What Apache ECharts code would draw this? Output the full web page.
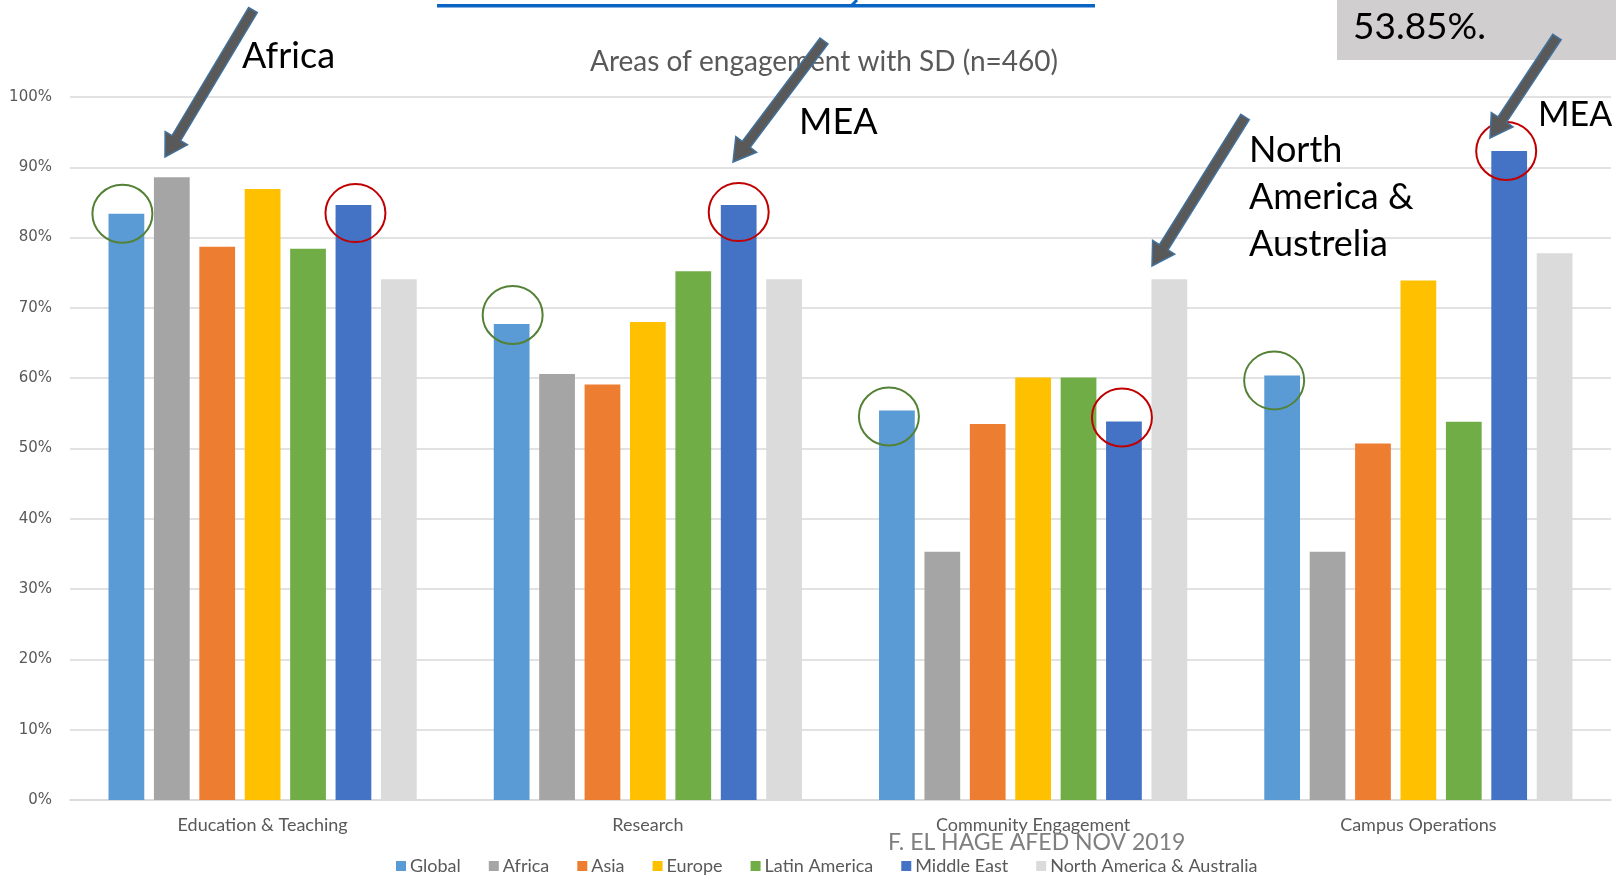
<!DOCTYPE html>
<html>
<head>
<meta charset="utf-8">
<script src="https://cdn.jsdelivr.net/npm/echarts@6/dist/echarts.min.js"></script>
<style>
  html, body { margin: 0; padding: 0; background: #fff; }
  #chart { width: 1616px; height: 882px; }
</style>
</head>
<body>
<div id="chart"></div>
<script>
// Share of respondents engaged in each SD area, by region (%)
const categories = ['Education & Teaching', 'Research', 'Community Engagement', 'Campus Operations'];
const regions = ['Global', 'Africa', 'Asia', 'Europe', 'Latin America', 'Middle East', 'North America & Australia'];
const globalVals       = [83.4, 67.7, 55.4, 60.4];
const africaVals       = [88.6, 60.6, 35.3, 35.3];
const asiaVals         = [78.7, 59.1, 53.5, 50.7];
const europeVals       = [86.9, 68.0, 60.1, 73.9];
const latinAmericaVals = [78.4, 75.2, 60.1, 53.8];
const middleEastVals   = [84.62, 84.62, 53.85, 92.31];
const northAmericaVals = [74.07, 74.07, 74.07, 77.78];
const yTicks = [0, 10, 20, 30, 40, 50, 60, 70, 80, 90, 100];

const seriesValues = [globalVals, africaVals, asiaVals, europeVals, latinAmericaVals, middleEastVals, northAmericaVals];
const colors = ['#5B9BD5', '#A5A5A5', '#ED7D31', '#FFC000', '#70AD47', '#4472C4', '#DBDBDB'];

const FONT = 'Lato, "Open Sans", sans-serif';
const chart = echarts.init(document.getElementById('chart'), null, { renderer: 'canvas' });

const option = {
  animation: false,
  color: colors,
  grid: { left: 70, right: 5, top: 97, bottom: 82, containLabel: false },
  legend: {
    data: regions,
    left: 391,
    top: 852,
    itemWidth: 10,
    itemHeight: 10,
    itemGap: 28,
    icon: 'rect',
    textStyle: { fontFamily: FONT, fontSize: 18, color: '#595959', padding: [0, 0, 0, -1] }
  },
  xAxis: {
    type: 'category',
    data: categories,
    axisLine: { lineStyle: { color: '#D9D9D9', width: 1.5 } },
    axisTick: { show: false },
    axisLabel: { fontFamily: FONT, fontSize: 18, color: '#595959', margin: 16 }
  },
  yAxis: {
    type: 'value',
    min: yTicks[0],
    max: yTicks[yTicks.length - 1],
    interval: yTicks[1] - yTicks[0],
    axisLine: { show: false },
    axisTick: { show: false },
    splitLine: { lineStyle: { color: '#D9D9D9', width: 1.5 } },
    axisLabel: { fontFamily: '"DejaVu Sans", sans-serif', fontSize: 15, color: '#595959', margin: 18, formatter: '{value}%' }
  },
  series: regions.map((name, i) => ({
    name,
    type: 'bar',
    data: seriesValues[i],
    barGap: '27%',
    barCategoryGap: '20%',
    itemStyle: { color: colors[i] }
  }))
};
chart.setOption(option);

// Callout arrow as a polygon: shaft from tail to head, then a triangular head ending at the tip
function arrowPoints(x1, y1, x2, y2) {
  const dx = x2 - x1, dy = y2 - y1;
  const len = Math.hypot(dx, dy);
  const ux = dx / len, uy = dy / len;
  const px = -uy, py = ux;
  const shaft = 5, head = 13, headLen = 22;
  const bx = x2 - ux * headLen, by = y2 - uy * headLen;
  return [
    [x1 + px * shaft, y1 + py * shaft],
    [bx + px * shaft, by + py * shaft],
    [bx + px * head, by + py * head],
    [x2, y2],
    [bx - px * head, by - py * head],
    [bx - px * shaft, by - py * shaft],
    [x1 - px * shaft, y1 - py * shaft]
  ];
}

function arrow(x1, y1, x2, y2) {
  return {
    type: 'polygon', z: 100,
    shape: { points: arrowPoints(x1, y1, x2, y2) },
    style: { fill: '#595959', stroke: '#41719C', lineWidth: 1.5 }
  };
}

function label(text, x, y, size) {
  return {
    type: 'text', z: 100,
    style: { text, x, y, font: size + 'px ' + FONT, fill: '#000', textAlign: 'left', textVerticalAlign: 'middle' }
  };
}

// Ellipse around the top of a bar, located from the rendered bar layout (dx/dy nudge the ring)
function ringAround(seriesIndex, dataIndex, color, dx, dy) {
  const layout = chart.getModel().getSeriesByIndex(seriesIndex).getData().getItemLayout(dataIndex);
  const cx = layout.x + layout.width / 2 + dx;
  const top = Math.min(layout.y, layout.y + layout.height);
  return {
    type: 'ellipse', z: 90,
    shape: { cx, cy: top + dy, rx: 30, ry: 29 },
    style: { fill: 'none', stroke: color, lineWidth: 2 }
  };
}

const GREEN = '#538135', RED = '#C00000';
const rings = [
  ringAround(0, 0, GREEN, -4, 0),
  ringAround(5, 0, RED, 2, 8),
  ringAround(0, 1, GREEN, 1, -9),
  ringAround(5, 1, RED, 0, 7),
  ringAround(0, 2, GREEN, -8, 6),
  ringAround(5, 2, RED, -2, -4),
  ringAround(0, 3, GREEN, -8, 5),
  ringAround(5, 3, RED, -3, 0)
];

chart.setOption({
  graphic: [
    // hyperlink underline running off the top edge
    { type: 'rect', z: 50, shape: { x: 437, y: 4, width: 658, height: 3.5 }, style: { fill: '#0A64C4' } },
    { type: 'line', z: 50, shape: { x1: 857, y1: 0, x2: 852, y2: 5 }, style: { stroke: '#0A64C4', lineWidth: 3 } },
    // chart title
    {
      type: 'text', z: 60,
      style: { text: 'Areas of engagement with SD (n=460)', x: 824, y: 62, font: '28px ' + FONT, fill: '#595959', textAlign: 'center', textVerticalAlign: 'middle' }
    },
    // value box in the corner
    { type: 'rect', z: 60, shape: { x: 1337, y: 0, width: 279, height: 60 }, style: { fill: '#D0CECE' } },
    label('53.85%.', 1353, 27, 37),
    // credit line
    {
      type: 'text', z: 60,
      style: { text: 'F. EL HAGE AFED NOV 2019', x: 888, y: 843, font: '23px ' + FONT, fill: '#7F7F7F', textAlign: 'left', textVerticalAlign: 'middle' }
    },
    ...rings,
    arrow(253, 10, 165, 157),
    arrow(824, 41, 733, 162),
    arrow(1245, 117, 1152, 266),
    arrow(1557, 37, 1490, 138),
    label('Africa', 242, 56, 36),
    label('MEA', 799, 122, 36),
    label('MEA', 1538, 115, 34),
    label('North', 1249, 150, 36),
    label('America &', 1249, 197, 36),
    label('Austrelia', 1249, 244, 36)
  ]
});
</script>
</body>
</html>
